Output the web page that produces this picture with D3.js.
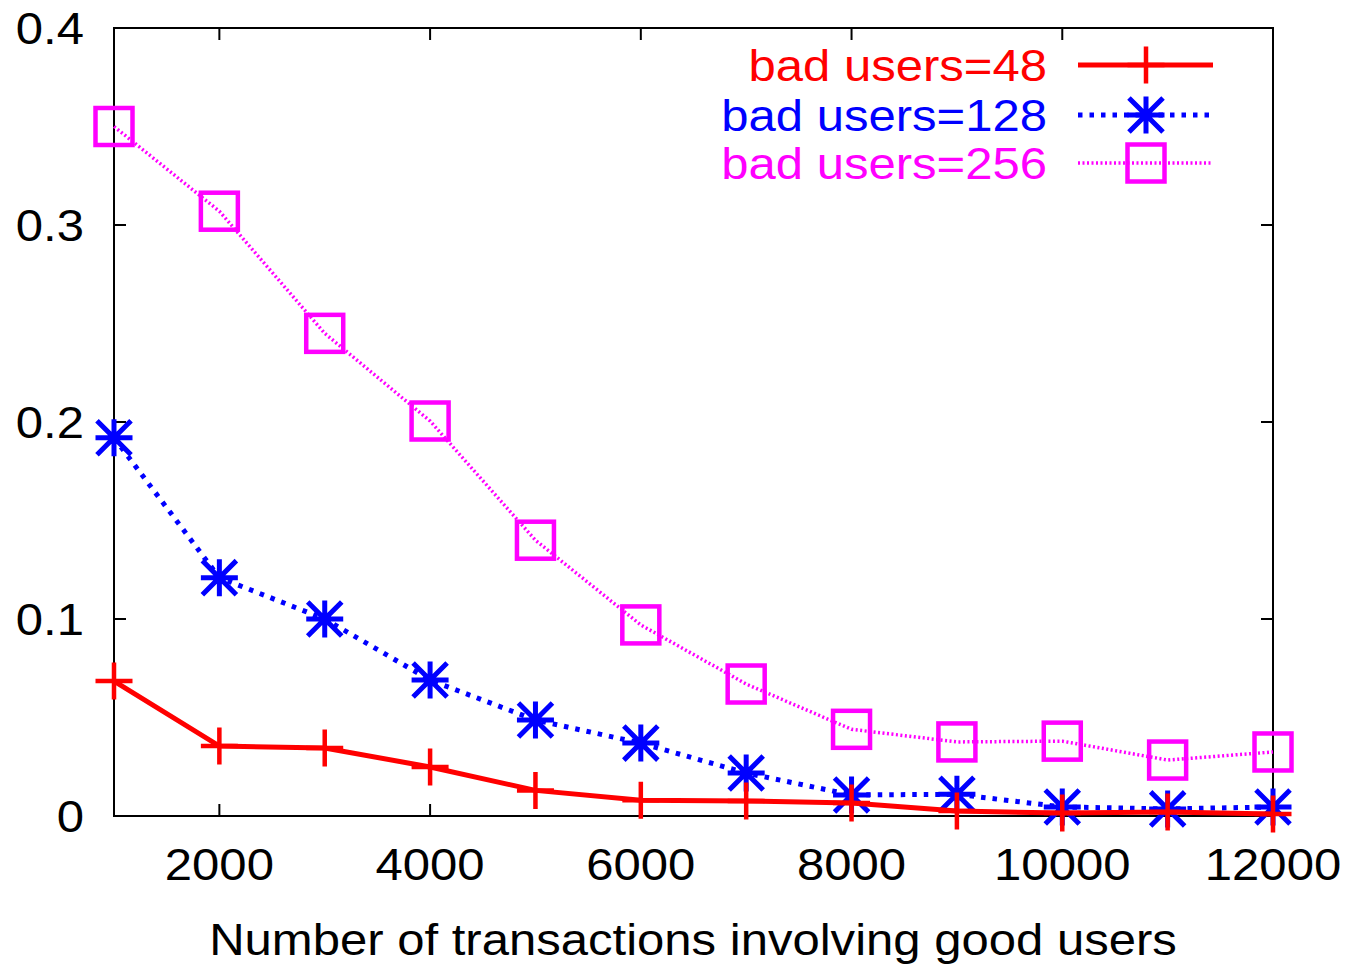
<!DOCTYPE html>
<html><head><meta charset="utf-8">
<script src="https://cdn.jsdelivr.net/npm/d3@7"></script>
<style>body{margin:0;background:#fff}svg{display:block}text{font-family:"Liberation Sans",Arial,sans-serif}</style>
</head><body>
<svg id="c" width="1348" height="967"></svg>
<script>
const xValues = [1000,2000,3000,4000,5000,6000,7000,8000,9000,10000,11000,12000];
const bad48  = [0.0685,0.0355,0.0345,0.0249,0.013,0.008,0.0076,0.0066,0.0025,0.0015,0.002,0.001];
const bad128 = [0.192,0.121,0.100,0.069,0.0487,0.037,0.0218,0.0107,0.011,0.0046,0.0036,0.0046];
const bad256 = [0.350,0.307,0.245,0.2005,0.140,0.097,0.067,0.044,0.0376,0.038,0.0284,0.0325];
const xTicks = [2000,4000,6000,8000,10000,12000];
const yTicks = [0,0.1,0.2,0.3,0.4];
const seriesNames = ["bad users=48","bad users=128","bad users=256"];

const svg = d3.select("#c");
const L=114, R=1273, T=28, B=816;
const x = d3.scaleLinear().domain([1000,12000]).range([L,R]);
const y = d3.scaleLinear().domain([0,0.4]).range([B,T]);
const SX = 1.115;

function txt(px, py, str, anchor, color){
  return svg.append("text")
    .attr("transform",`translate(${px},${py}) scale(${SX},1)`)
    .attr("text-anchor",anchor).attr("font-size",44).attr("fill",color||"#000").text(str);
}

const series = [
  {name:seriesNames[0], vals:bad48, color:"#ff0000", width:5, dash:null, marker:"plus"},
  {name:seriesNames[1], vals:bad128, color:"#0000ff", width:5, dash:"4.5,7", marker:"star"},
  {name:seriesNames[2], vals:bad256, color:"#ff00ff", width:3.5, dash:"2,2.5", marker:"square"}
];

const tk = 12;
const g = svg.append("g");
xTicks.forEach(v=>{
  g.append("line").attr("x1",x(v)).attr("x2",x(v)).attr("y1",B).attr("y2",B-tk).attr("stroke","#000").attr("stroke-width",2);
  g.append("line").attr("x1",x(v)).attr("x2",x(v)).attr("y1",T).attr("y2",T+tk).attr("stroke","#000").attr("stroke-width",2);
  txt(x(v),880,String(v),"middle");
});
yTicks.forEach(v=>{
  g.append("line").attr("x1",L).attr("x2",L+tk).attr("y1",y(v)).attr("y2",y(v)).attr("stroke","#000").attr("stroke-width",2);
  g.append("line").attr("x1",R).attr("x2",R-tk).attr("y1",y(v)).attr("y2",y(v)).attr("stroke","#000").attr("stroke-width",2);
  txt(84,y(v)+16,v===0?"0":d3.format(".1f")(v),"end");
});
svg.append("rect").attr("x",L).attr("y",T).attr("width",R-L).attr("height",B-T).attr("fill","none").attr("stroke","#000").attr("stroke-width",2);

txt(693,955,"Number of transactions involving good users","middle");

function marker(sel, type, cx, cy, color){
  const s=18.5;
  if(type==="plus"){
    sel.append("path").attr("d",`M${cx-s},${cy}H${cx+s}M${cx},${cy-s}V${cy+s}`).attr("stroke",color).attr("stroke-width",4.5).attr("fill","none");
  } else if(type==="star"){
    const d=s*0.92;
    sel.append("path").attr("d",`M${cx-s},${cy}H${cx+s}M${cx},${cy-s}V${cy+s}M${cx-d},${cy-d}L${cx+d},${cy+d}M${cx-d},${cy+d}L${cx+d},${cy-d}`).attr("stroke",color).attr("stroke-width",5).attr("fill","none");
  } else {
    sel.append("rect").attr("x",cx-s).attr("y",cy-s).attr("width",2*s).attr("height",2*s).attr("stroke",color).attr("stroke-width",4.5).attr("fill","none");
  }
}

const line = d3.line().x((d,i)=>x(xValues[i])).y(d=>y(d));
series.slice().reverse().forEach(s=>{
  svg.append("path").attr("d",line(s.vals)).attr("fill","none").attr("stroke",s.color).attr("stroke-width",s.width).attr("stroke-dasharray",s.dash);
  s.vals.forEach((v,i)=>marker(svg,s.marker,x(xValues[i]),y(v),s.color));
});

const legY=[65,115,163];
series.forEach((s,i)=>{
  txt(1047,legY[i]+16,s.name,"end",s.color);
  svg.append("line").attr("x1",1078).attr("x2",1213).attr("y1",legY[i]).attr("y2",legY[i]).attr("stroke",s.color).attr("stroke-width",s.width).attr("stroke-dasharray",s.dash);
  marker(svg,s.marker,1146,legY[i],s.color);
});
</script>
</body></html>
